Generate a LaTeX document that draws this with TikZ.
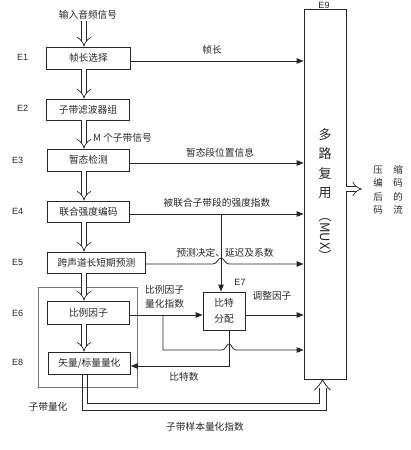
\documentclass[tikz,border=0pt]{standalone}
\usepackage{fontspec}
\setmainfont{Liberation Sans}
\newfontfamily\cjk{Noto Sans CJK SC}
\usetikzlibrary{arrows.meta}
\begin{document}
\begin{tikzpicture}[x=1pt,y=-1pt,
  blk/.style={draw=black!85, line width=0.8pt, minimum height=22pt, inner sep=0pt, anchor=west, text=black!85, font=\cjk\fontsize{9.7}{11}\selectfont},
  txt/.style={font=\cjk\fontsize{9.7}{11}\selectfont, inner sep=0pt, text=black!85},
  elab/.style={font=\fontsize{9}{10}\selectfont, inner sep=0pt, anchor=west, text=black!85},
  arr/.style={draw=black!85, line width=0.8pt, -{Triangle[length=7pt,width=5.5pt]}},
  ln/.style={draw=black!85, line width=0.8pt},
  dbl/.style={draw=black!85, line width=0.7pt, double=white, double distance=4.5pt, -{Implies}},
]
\useasboundingbox (0,0) rectangle (410,450);

% group box
\node[draw=black!55, line width=0.7pt, minimum width=99pt, minimum height=100pt, inner sep=0pt] (grp) at (87.5,337) {};

% blocks
\node[blk, minimum width=84pt] (e1) at (46,58) {帧长选择};
\node[blk, minimum width=83pt, minimum height=21pt] (e2) at (46,109.5) {子带滤波器组};
\node[blk, minimum width=82pt] (e3) at (47,160) {暂态检测};
\node[blk, minimum width=82pt, minimum height=21pt] (e4) at (47,211.5) {联合强度编码};
\node[blk, minimum width=98pt, minimum height=21pt] (e5) at (47,262.5) {跨声道长短期预测};
\node[blk, minimum width=82pt, minimum height=23pt] (e6) at (47,312.5) {比例因子};
\node[blk, minimum width=82pt] (e8) at (48,363) {矢量/标量量化};
\node[blk, anchor=center, minimum width=42pt, minimum height=38pt, align=center, font=\cjk\fontsize{9.7}{16}\selectfont] (e7) at (224,311) {比特\\分配};
\node[draw=black!85, line width=0.8pt, minimum width=42pt, minimum height=370pt, inner sep=0pt] (mux) at (325,194) {};

% E labels
\node[elab] (l1) at (17,57) {E1};
\node[elab] (l2) at (17,108) {E2};
\node[elab] (l3) at (12,160) {E3};
\node[elab] (l4) at (12,211) {E4};
\node[elab] (l5) at (12,262) {E5};
\node[elab] (l6) at (12,313) {E6};
\node[elab] (l8) at (12,362) {E8};
\node[elab, anchor=center] (l7) at (240,282) {E7};
\node[elab, anchor=center] (l9) at (324,5) {E9};

% MUX text
\begin{scope}[every node/.style={font=\cjk\fontsize{13}{14}\selectfont, inner sep=0pt, text=black!85}]
\node (m1) at (325,135) {多};
\node (m2) at (325,154) {路};
\node (m3) at (325,174) {复};
\node (m4) at (325,193) {用};
\node[rotate=-90] (m5) at (325,236) {（MUX）};
\end{scope}

% output text
\node[txt, align=center, font=\cjk\fontsize{9.5}{13.5}\selectfont] (outa) at (378,190) {压\\编\\后\\码};
\node[txt, align=center, font=\cjk\fontsize{9.5}{13.5}\selectfont] (outb) at (398,190) {缩\\码\\的\\流};

% double arrows in the column
\node[txt] (inlbl) at (88,15) {输入音频信号};
\coordinate (in) at (84,21);
\draw[dbl] (in) -- (in |- e1.north);
\draw[dbl] (e1.south -| in) -- (e2.north -| in);
\draw[dbl] (e2.south -| in) -- (e3.north -| in);
\draw[dbl] (e3.south -| in) -- (e4.north -| in);
\draw[dbl] (e4.south -| in) -- (e5.north -| in);
\draw[dbl] (e5.south -| in) -- (e6.north -| in);
\draw[dbl] (e6.south -| in) -- (e8.north -| in);

% signal lines
\draw[arr] (e1.east |- 0,61) -- (mux.west |- 0,61);
\draw[arr] (e3.east |- 0,163) -- (mux.west |- 0,163);
\draw[arr] (e4.east |- 0,214) -- (mux.west |- 0,214);
\coordinate (j1) at (221,214);
\draw[arr] (j1) -- (e7.north -| j1);
\draw[arr] (e5.east |- 0,264) -- (213,264) .. controls (217,264) and (218,258) .. (221,258) .. controls (224,258) and (225,264) .. (229,264) -- (mux.west |- 0,264);
\draw[arr] (e6.east |- 0,315) -- (e7.west |- 0,315);
\coordinate (j2) at (163,315);
\draw[arr] (j2) -- (163,350) -- (222,350) .. controls (226,350) and (226,344) .. (229,344) .. controls (232,344) and (232,350) .. (236,350) -- (mux.west |- 0,350);
\draw[arr] (e7.east |- 0,315) -- (mux.west |- 0,315);
\coordinate (j3) at (229,366);
\draw[arr] (e7.south -| j3) -- (j3) -- (e8.east |- j3);

% sub-band sample quantisation index (double line into MUX bottom)
\coordinate (bo1) at (82,410);
\coordinate (bo2) at (326,410);
\coordinate (bi1) at (87,403);
\coordinate (bi2) at (319,403);
\coordinate (tip) at (322.5,379.5);
\draw[ln] (e8.south -| bo1) -- (bo1) -- (bo2) -- (326,388);
\draw[ln] (e8.south -| bi1) -- (bi1) -- (bi2) -- (319,388);
\draw[ln, line join=round] (314.5,390) .. controls (318,387) and (321,383) .. (tip) .. controls (324,383) and (327,387) .. (330.5,390);

\draw[dbl] (mux.east |- 0,189) -- (362,189);

% labels
\node[txt] (t1) at (212,50) {帧长};
\node[txt, anchor=west] (t2) at (93,138) {M 个子带信号};
\node[txt] (t3) at (220,153) {暂态段位置信息};
\node[txt] (t4) at (217,203) {被联合子带段的强度指数};
\node[txt] (t5) at (225,253) {预测决定、延迟及系数};
\node[txt, anchor=west, align=left, font=\cjk\fontsize{9.7}{14}\selectfont] (t6) at (145,297) {比例因子\\量化指数};
\node[txt] (t7) at (272,296) {调整因子};
\node[txt] (t8) at (184,377) {比特数};
\node[txt] (t9) at (205,427) {子带样本量化指数};
\node[txt] (t10) at (48,407) {子带量化};
\end{tikzpicture}
\end{document}
